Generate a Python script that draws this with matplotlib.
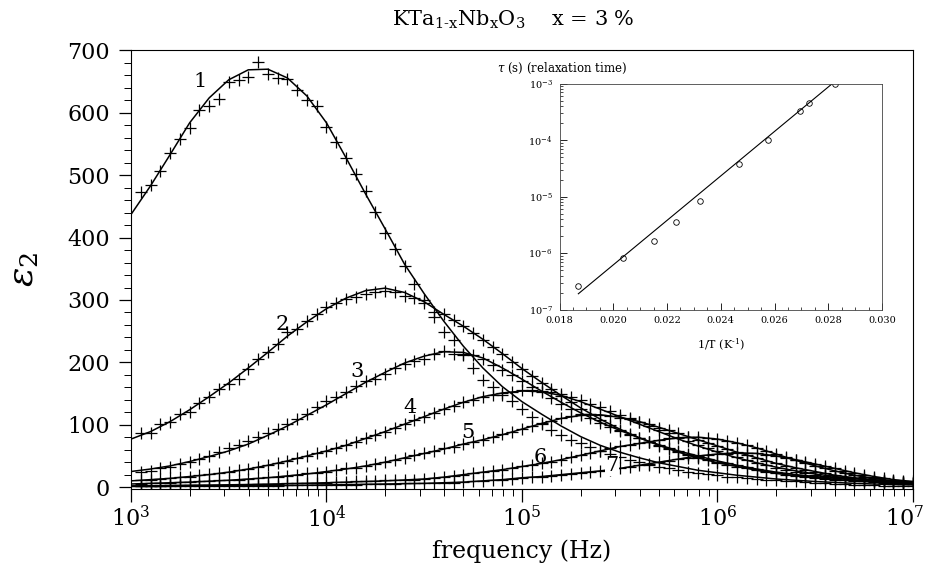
import numpy as np
import matplotlib
matplotlib.use("Agg")
import matplotlib.pyplot as plt
from matplotlib.ticker import MultipleLocator, LogLocator, NullFormatter
from matplotlib.transforms import ScaledTranslation

plt.rcParams['font.family'] = ['DejaVu Serif']
plt.rcParams['mathtext.fontset'] = 'dejavuserif'

# log10 of frequency (Hz): fitted curves and measured points
log_f_fit = np.arange(3.0, 7.0001, 0.1)
log_f_data = np.arange(3.05, 7.0001, 0.05)

# fitted curves (eps2), one value per 0.1 decade from 1e3 to 1e7 Hz
fit1 = [437, 483, 533, 584, 624, 653, 669, 670, 656, 627,
        584, 528, 470, 414, 357, 310, 266, 226, 191, 161,
        137, 117, 98, 81, 67, 56, 47, 39, 33, 27,
        23, 19, 16, 13, 11, 9, 7.5, 6, 5, 4, 3.5]
fit2 = [77, 89, 105, 124, 145, 167, 191, 216, 242, 265,
        286, 303, 315, 319, 312, 297, 277, 258, 237, 214,
        190, 168, 147, 127, 109, 93, 79, 67, 56, 47,
        39, 33, 27, 22, 18, 15, 12, 10, 8, 6.5, 5]
fit3 = [25, 29, 34, 41, 49, 58, 69, 83, 98, 115,
        132, 150, 168, 184, 199, 210, 217, 216, 207, 191,
        173, 154, 136, 119, 104, 91, 79, 68, 58, 50,
        42, 35, 29, 24, 20, 17, 14, 11.5, 9.5, 8, 6.5]
fit4 = [10, 12, 14, 17, 20, 24, 29, 35, 42, 50,
        58, 67, 78, 89, 101, 113, 125, 136, 145, 151,
        154, 153, 147, 137, 125, 113, 101, 89, 77, 66,
        56, 47, 39, 32, 26, 21, 17, 13.5, 11, 9, 7]
fit5 = [5, 6, 7, 8, 9.5, 11, 13, 15, 18, 21,
        25, 29, 34, 40, 47, 54, 61, 69, 76, 84,
        93, 102, 110, 115, 116, 112, 105, 96, 86, 76,
        66, 56, 47, 38, 31, 25, 19, 15, 12, 9, 7]
fit6 = [2, 2.2, 2.5, 3, 3.3, 3.7, 4.2, 4.8, 5.5, 6.2,
        7, 8, 9, 10, 11.5, 13, 16, 20, 24, 28,
        33, 38, 44, 51, 58, 65, 70, 75, 79, 80,
        77, 71, 63, 53, 43, 34, 26, 19, 14, 10, 7]
fit7 = [1, 1, 1.2, 1.4, 1.6, 1.8, 2, 2.3, 2.6, 3,
        3.5, 4, 4.5, 5, 5.5, 6, 7, 8, 10, 12,
        15, 17, 20, 23, 26, 30, 35, 40, 45, 50,
        53, 55, 54, 50, 44, 37, 30, 23, 17, 12, 9]

# measured eps2, one value per 0.05 decade from 10^3.05 to 1e7 Hz
data1 = [473, 485, 506, 535, 558, 575, 604, 611, 622, 649,
         653, 658, 681, 662, 656, 654, 637, 620, 611, 577,
         554, 527, 502, 474, 441, 408, 382, 354, 325, 300,
         272, 249, 236, 212, 191, 172, 160, 148, 138, 126,
         112, 101, 92, 83, 76, 70, 65, 58, 53, 48,
         44, 40, 36, 33, 30, 27, 25, 23, 21, 19,
         17, 16, 14, 13, 12, 11, 10, 9, 8, 7,
         6, 5, 5, 4, 3, 3, 2, 2, 1, 1]
data2 = [86, 86, 101, 104, 117, 121, 135, 144, 157, 166,
         174, 190, 206, 217, 229, 248, 253, 266, 278, 289,
         295, 302, 305, 310, 312, 314, 312, 307, 303, 295,
         280, 277, 268, 259, 247, 236, 224, 213, 201, 189,
         178, 167, 157, 146, 136, 126, 117, 108, 100, 92,
         85, 78, 72, 66, 61, 56, 51, 47, 43, 39,
         36, 33, 30, 27, 24, 22, 20, 18, 16, 15,
         13, 12, 11, 10, 9, 8, 7, 6, 5, 5]
data3 = [25, 26, 30, 32, 37, 40, 45, 50, 56, 62,
         68, 74, 80, 86, 93, 101, 109, 118, 128, 138,
         144, 152, 162, 170, 174, 182, 191, 197, 202, 206,
         213, 218, 213, 213, 211, 205, 196, 188, 180, 170,
         161, 152, 143, 134, 126, 118, 110, 103, 96, 90,
         84, 78, 72, 67, 62, 58, 53, 49, 45, 41,
         38, 35, 32, 29, 26, 24, 22, 20, 18, 16,
         15, 13, 12, 11, 10, 9, 8, 7, 6, 6]
data4 = [11, 12, 13, 14, 16, 17, 19, 21, 22, 24,
         27, 29, 32, 35, 38, 42, 46, 50, 54, 58,
         62, 67, 72, 78, 83, 89, 95, 101, 107, 113,
         119, 125, 130, 136, 140, 145, 148, 151, 153, 155,
         155, 154, 152, 149, 145, 140, 134, 128, 122, 116,
         110, 104, 98, 92, 86, 80, 74, 68, 63, 58,
         53, 48, 43, 39, 35, 31, 28, 25, 22, 20,
         18, 16, 14, 12, 11, 10, 9, 8, 7, 7]
data5 = [5, 6, 6, 7, 8, 8, 9, 10, 11, 12,
         12, 13, 14, 16, 17, 18, 20, 22, 23, 25,
         27, 30, 31, 34, 37, 41, 44, 47, 52, 54,
         58, 62, 65, 69, 73, 76, 80, 85, 89, 93,
         98, 103, 106, 110, 114, 115, 117, 116, 114, 111,
         109, 104, 101, 95, 91, 86, 81, 75, 71, 66,
         61, 56, 51, 46, 42, 38, 34, 30, 28, 25,
         22, 19, 17, 15, 13, 11, 10, 9, 8, 7]
data6 = [2, 2, 2, 3, 3, 3, 3, 3, 4, 4,
         4, 4, 5, 5, 5, 6, 6, 6, 7, 7,
         8, 8, 9, 9, 10, 11, 11, 12, 12, 13,
         14, 16, 18, 20, 22, 25, 26, 28, 31, 34,
         36, 39, 41, 44, 48, 52, 55, 58, 62, 66,
         68, 71, 73, 75, 78, 79, 80, 81, 79, 77,
         74, 71, 67, 62, 58, 53, 48, 43, 38, 34,
         30, 26, 22, 19, 16, 14, 12, 10, 8, 7]
data7 = [1, 1, 1, 1, 1, 1, 2, 2, 2, 2,
         2, 2, 2, 2, 2, 3, 3, 3, 3, 4,
         4, 4, 4, 5, 5, 5, 5, 6, 6, 6,
         6, 7, 7, 8, 9, 10, 11, 12, 13, 15,
         16, 17, 18, 20, 21, 23, 24, 26, 28, 31,
         32, 35, 37, 40, 42, 45, 47, 50, 52, 53,
         54, 55, 55, 54, 52, 50, 47, 44, 41, 37,
         34, 30, 26, 23, 20, 17, 14, 12, 10, 9]

fits = [fit1, fit2, fit3, fit4, fit5, fit6, fit7]
datas = [data1, data2, data3, data4, data5, data6, data7]

# curve numbers and where they are written
curve_names = ['1', '2', '3', '4', '5', '6', '7']
name_logf = [3.353, 3.772, 4.156, 4.427, 4.724, 5.092, 5.46]
name_eps = [650, 261, 186, 128, 88, 48, 34]

# inset: relaxation time vs 1/T
inv_T = [0.0187, 0.02035, 0.0215, 0.02233, 0.02323, 0.02468, 0.02577, 0.02696, 0.02728, 0.02826]
tau = [2.6e-7, 8.2e-7, 1.6e-6, 3.5e-6, 8.5e-6, 3.7e-5, 1.0e-4, 3.3e-4, 4.5e-4, 9.7e-4]
inv_T_fit = [0.0187, 0.02826]
tau_fit = [1.9e-7, 1.1e-3]

fig = plt.figure(figsize=(9.25, 5.75), dpi=100)
ax = fig.add_axes([0.1416, 0.1496, 0.8454, 0.7626])

f_fit = 10 ** log_f_fit
f_data = 10 ** log_f_data
for fit, dat in zip(fits, datas):
    ax.plot(f_fit, fit, color='k', lw=1.1)
    ax.plot(f_data, dat, ls='none', marker='+', ms=8, mew=0.9, color='k')

for i, name in enumerate(curve_names):
    kw = {}
    if name == '7':
        kw['bbox'] = dict(facecolor='white', edgecolor='none', pad=0.5)
    ax.text(10 ** name_logf[i], name_eps[i], name, fontsize=15,
            ha='center', va='center', **kw)

ax.set_xscale('log')
ax.set_xlim(1e3, 1e7)
ax.set_ylim(-3, 700)
ax.yaxis.set_major_locator(MultipleLocator(100))
ax.yaxis.set_minor_locator(MultipleLocator(20))
ax.xaxis.set_minor_locator(LogLocator(base=10, subs=np.arange(2, 10)))
ax.xaxis.set_minor_formatter(NullFormatter())
ax.tick_params(which='major', direction='out', length=9, width=0.9, labelsize=16)
ax.tick_params(which='minor', direction='out', length=5, width=0.7)
ax.tick_params(axis='y', pad=6)
ax.tick_params(axis='x', pad=3)

ax.set_xlabel('frequency (Hz)', fontsize=17)
ax.xaxis.set_label_coords(0.5, -0.115)
ax.set_ylabel(r'$\varepsilon_2$', fontsize=26, rotation=90)
ax.yaxis.set_label_coords(-0.115, 0.5)

fig.text(0.555, 0.965, r'KTa$_{\text{1-x}}$Nb$_{\text{x}}$O$_{\text{3}}$    x = 3 %',
         fontsize=15, ha='center', va='center')

# inset
axi = fig.add_axes([0.6049, 0.4617, 0.3486, 0.3930])
axi.plot(inv_T_fit, tau_fit, color='k', lw=0.8)
axi.plot(inv_T, tau, ls='none', marker='o', ms=4, mfc='none', mec='k', mew=0.6)
axi.set_yscale('log')
axi.set_xlim(0.018, 0.030)
axi.set_ylim(1e-7, 1e-3)
axi.xaxis.set_major_locator(MultipleLocator(0.002))
axi.xaxis.set_minor_locator(MultipleLocator(0.0005))
axi.xaxis.set_major_formatter(plt.FormatStrFormatter('%.3f'))
axi.yaxis.set_minor_locator(LogLocator(base=10, subs=np.arange(2, 10)))
axi.yaxis.set_minor_formatter(NullFormatter())
axi.tick_params(which='major', direction='in', length=5, width=0.6, labelsize=7, pad=5)
axi.tick_params(which='minor', direction='in', length=2.5, width=0.5)
for s in axi.spines.values():
    s.set_linewidth(0.6)
    s.set_color('#444444')
axi.set_xlabel(r'1/T (K$^{\text{-1}}$)', fontsize=8)
axi.xaxis.set_label_coords(0.5, -0.12)
axi.text(-0.194, 1.05, r'$\tau$ (s) (relaxation time)', fontsize=8.5,
         transform=axi.transAxes, ha='left', va='baseline')

# the last frequency label sits at the right edge: nudge it in a little
fig.canvas.draw()
for tick in ax.xaxis.get_major_ticks():
    if np.isclose(tick.get_loc(), 1e7):
        lab = tick.label1
        lab.set_transform(lab.get_transform() + ScaledTranslation(-6 / 72, 0, fig.dpi_scale_trans))

fig.savefig('out.png', dpi=100)
